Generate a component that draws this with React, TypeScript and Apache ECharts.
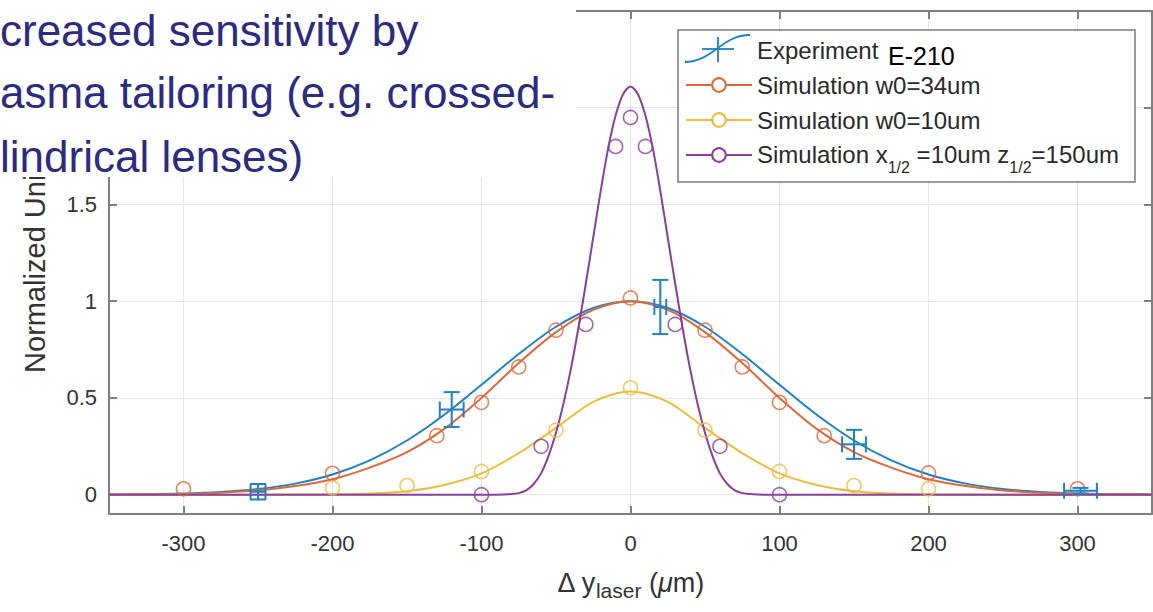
import React, { useEffect, useRef } from 'react';
import * as echarts from 'echarts';

const xTicks = [-300, -200, -100, 0, 100, 200, 300];
const yTicks = [0, 0.5, 1, 1.5, 2, 2.5];
const yTickLabels = [0, 0.5, 1, 1.5];

const fitX = [-350, -325, -300, -275, -250, -225, -200, -175, -150, -125, -100, -75, -50, -25, 0, 25, 50, 75, 100, 125, 150, 175, 200, 225, 250, 275, 300, 325, 350];
const experimentFit = [0.001, 0.003, 0.006, 0.014, 0.029, 0.057, 0.104, 0.177, 0.28, 0.413, 0.568, 0.727, 0.868, 0.965, 1.0, 0.965, 0.868, 0.727, 0.568, 0.413, 0.28, 0.177, 0.104, 0.057, 0.029, 0.014, 0.006, 0.003, 0.001];
const sim34Fit = [0.001, 0.002, 0.004, 0.01, 0.022, 0.045, 0.08, 0.14, 0.22, 0.34, 0.5, 0.68, 0.84, 0.955, 1.0, 0.955, 0.84, 0.68, 0.5, 0.34, 0.22, 0.14, 0.08, 0.045, 0.022, 0.01, 0.004, 0.002, 0.001];
const sim10Fit = [0, 0, 0, 0, 0, 0.001, 0.002, 0.006, 0.018, 0.05, 0.11, 0.215, 0.345, 0.48, 0.533, 0.48, 0.345, 0.215, 0.11, 0.05, 0.018, 0.006, 0.002, 0.001, 0, 0, 0, 0, 0];

const tailorX = [-350, -100, -90, -80, -75, -70, -65, -60, -55, -50, -45, -40, -35, -30, -25, -20, -15, -10, -5, 0, 5, 10, 15, 20, 25, 30, 35, 40, 45, 50, 55, 60, 65, 70, 75, 80, 90, 100, 350];
const tailorFit = [0, 0, 0, 0.003, 0.008, 0.022, 0.055, 0.11, 0.2, 0.32, 0.47, 0.65, 0.86, 1.09, 1.33, 1.57, 1.79, 1.96, 2.07, 2.11, 2.07, 1.96, 1.79, 1.57, 1.33, 1.09, 0.86, 0.65, 0.47, 0.32, 0.2, 0.11, 0.055, 0.022, 0.008, 0.003, 0, 0, 0];

// [x, y, xErr, yErr]
const experimentPoints = [
  [-250, 0.015, 5, 0.04],
  [-120, 0.44, 8, 0.09],
  [20, 0.97, 4, 0.14],
  [150, 0.26, 8, 0.075],
  [302, 0.02, 11, 0.015],
];
const sim34Points = [[-300, 0.03], [-200, 0.11], [-130, 0.305], [-100, 0.477], [-75, 0.66], [-50, 0.85], [0, 1.017], [50, 0.85], [75, 0.66], [100, 0.477], [130, 0.305], [200, 0.112], [300, 0.03]];
const sim10Points = [[-200, 0.035], [-150, 0.047], [-100, 0.12], [-50, 0.333], [0, 0.552], [50, 0.333], [100, 0.12], [150, 0.047], [200, 0.03]];
const tailorPoints = [[-100, 0], [-60, 0.25], [-30, 0.88], [-10, 1.8], [0, 1.95], [10, 1.8], [30, 0.88], [60, 0.25], [100, 0]];

const seriesNames = ['Experiment', 'Simulation w0=34um', 'Simulation w0=10um', 'Simulation x1/2 =10um z1/2=150um'];
const titleLines = ['creased sensitivity by', 'asma tailoring (e.g. crossed-', 'lindrical lenses)'];

const BLUE = '#1f80c6';
const ORANGE = '#e0673b';
const YELLOW = '#efbb3c';
const PURPLE = '#8a3f9c';
const FONT = 'Liberation Sans, Arial, Helvetica, sans-serif';
const AXIS = '#808080';

const zip = (xs: number[], ys: number[]) => xs.map((x, i) => [x, ys[i]]);

export default function App() {
  const ref = useRef<HTMLDivElement>(null);
  useEffect(() => {
    const chart = echarts.init(ref.current!, null, { renderer: 'svg' });
    const lineBase = (name: string, color: string, data: number[][]) => ({
      type: 'line', name, data, smooth: 0.3, showSymbol: false, symbol: 'emptyCircle', symbolSize: 14,
      lineStyle: { color, width: 2 }, itemStyle: { color }, silent: true, z: 3,
    });
    const scatterBase = (name: string, color: string, data: number[][]) => ({
      type: 'scatter', name, data, symbol: 'circle', symbolSize: 14,
      itemStyle: { color: 'rgba(255,255,255,0)', borderColor: color, borderWidth: 1.6 }, z: 4, silent: true,
    });
    const option: any = {
      animation: false,
      backgroundColor: '#fff',
      grid: { left: 109, right: 1, top: 11, bottom: 98 },
      xAxis: [
        {
          type: 'value', min: -350, max: 350, position: 'bottom',
          axisLine: { show: true, onZero: false, lineStyle: { color: AXIS, width: 2 } },
          axisTick: { show: true, inside: true, length: 8, customValues: xTicks, lineStyle: { color: AXIS, width: 2 } },
          axisLabel: { customValues: xTicks, fontSize: 22, color: '#333', margin: 18, fontFamily: FONT },
          splitLine: { show: true, lineStyle: { color: '#e6e6e6', width: 1 } },
          name: 'Δ y{sub|laser} ({it|μ}m)', nameLocation: 'middle', nameGap: 50,
          nameTextStyle: {
            fontSize: 27, color: '#333', fontFamily: FONT,
            rich: {
              sub: { fontSize: 21, color: '#333', fontFamily: FONT, padding: [16, 0, 0, 0] },
              it: { fontSize: 27, color: '#333', fontFamily: FONT, fontStyle: 'italic' },
            },
          },
        },
        {
          type: 'value', min: -350, max: 350, position: 'top',
          axisLine: { show: true, onZero: false, lineStyle: { color: AXIS, width: 2 } },
          axisTick: { show: true, inside: true, length: 8, customValues: xTicks, lineStyle: { color: AXIS, width: 2 } },
          axisLabel: { show: false },
          splitLine: { show: false },
        },
      ],
      yAxis: [
        {
          type: 'value', min: -0.1, max: 2.5, position: 'left',
          axisLine: { show: true, onZero: false, lineStyle: { color: AXIS, width: 2 } },
          axisTick: { show: true, inside: true, length: 8, customValues: yTicks, lineStyle: { color: AXIS, width: 2 } },
          axisLabel: { customValues: yTickLabels, fontSize: 22, color: '#333', margin: 12, fontFamily: FONT },
          splitLine: { show: true, lineStyle: { color: '#e6e6e6', width: 1 } },
          name: 'Normalized Units', nameLocation: 'middle', nameGap: 60,
          nameTextStyle: { fontSize: 29, color: '#333', fontFamily: FONT },
        },
        {
          type: 'value', min: -0.1, max: 2.5, position: 'right',
          axisLine: { show: true, onZero: false, lineStyle: { color: AXIS, width: 2 } },
          axisTick: { show: true, inside: true, length: 8, customValues: yTicks, lineStyle: { color: AXIS, width: 2 } },
          axisLabel: { show: false },
          splitLine: { show: false },
        },
      ],
      legend: {
        orient: 'vertical', left: 678, top: 30,
        padding: [7, 16, 7, 7],
        itemWidth: 66, itemHeight: 17, itemGap: 9,
        backgroundColor: '#fff', borderColor: '#7a7a7a', borderWidth: 1.5,
        selectedMode: false,
        textStyle: {
          fontSize: 24, color: '#2a2a2a', fontFamily: FONT, lineHeight: 26,
          rich: {
            m: { fontSize: 24, color: '#2a2a2a', fontFamily: FONT, lineHeight: 26, verticalAlign: 'top' },
            s: { fontSize: 16, color: '#2a2a2a', fontFamily: FONT, lineHeight: 16, padding: [17, 0, 0, 0], verticalAlign: 'top' },
          },
        },
        formatter: (name: string) => {
          if (name === seriesNames[3]) {
            return '{m|Simulation x}{s|1/2}{m| =10um z}{s|1/2}{m|=150um}';
          }
          return name;
        },
        data: [
          { name: seriesNames[0], icon: 'none' },
          seriesNames[1], seriesNames[2], seriesNames[3],
        ],
      },
      graphic: [
        { type: 'rect', z: 100, shape: { x: 0, y: 0, width: 576, height: 177 }, style: { fill: '#fff' } },
        ...titleLines.map((t, i) => ({
          type: 'text', z: 101, x: 0, y: [30, 92, 156][i],
          style: { text: t, fontSize: 44, fontFamily: FONT, fill: '#2b2b80', verticalAlign: 'middle', align: 'left' },
        })),
        { type: 'text', z: 101, x: 888, y: 56, style: { text: 'E-210', fontSize: 25, fontFamily: FONT, fill: '#000', verticalAlign: 'middle' } },
        { type: 'bezierCurve', z: 101, shape: { x1: 685, y1: 62, x2: 750, y2: 35, cpx1: 712, cpy1: 62, cpx2: 722, cpy2: 35 }, style: { stroke: BLUE, lineWidth: 1.8, fill: 'none' } },
        { type: 'line', z: 101, shape: { x1: 702, y1: 49, x2: 734, y2: 49 }, style: { stroke: BLUE, lineWidth: 1.8 } },
        { type: 'line', z: 101, shape: { x1: 718, y1: 37, x2: 718, y2: 62 }, style: { stroke: BLUE, lineWidth: 1.8 } },
      ],
      series: [
        lineBase(seriesNames[0], BLUE, zip(fitX, experimentFit)),
        {
          type: 'custom', name: 'Experiment error bars', data: experimentPoints, z: 5, silent: true,
          encode: { x: 0, y: 1 },
          renderItem: (params: any, api: any) => {
            const x = api.value(0), y = api.value(1), xe = api.value(2), ye = api.value(3);
            const l = api.coord([x - xe, y]);
            const r = api.coord([x + xe, y]);
            const t = api.coord([x, y + ye]);
            const b = api.coord([x, y - ye]);
            const cap = 8;
            const style = { stroke: BLUE, lineWidth: 2, fill: 'none' };
            const ln = (x1: number, y1: number, x2: number, y2: number) => ({ type: 'line', shape: { x1, y1, x2, y2 }, style });
            return {
              type: 'group',
              children: [
                ln(t[0], t[1], b[0], b[1]),
                ln(t[0] - cap, t[1], t[0] + cap, t[1]),
                ln(b[0] - cap, b[1], b[0] + cap, b[1]),
                ln(l[0], l[1], r[0], r[1]),
                ln(l[0], l[1] - cap, l[0], l[1] + cap),
                ln(r[0], r[1] - cap, r[0], r[1] + cap),
              ],
            };
          },
        },
        lineBase(seriesNames[1], ORANGE, zip(fitX, sim34Fit)),
        scatterBase(seriesNames[1], ORANGE, sim34Points),
        lineBase(seriesNames[2], YELLOW, zip(fitX, sim10Fit)),
        scatterBase(seriesNames[2], YELLOW, sim10Points),
        lineBase(seriesNames[3], PURPLE, zip(tailorX, tailorFit)),
        scatterBase(seriesNames[3], PURPLE, tailorPoints),
      ],
    };
    chart.setOption(option);
    return () => chart.dispose();
  }, []);
  return <div ref={ref} style={{ position: 'absolute', left: 0, top: 0, width: 1153, height: 612 }} />;
}
